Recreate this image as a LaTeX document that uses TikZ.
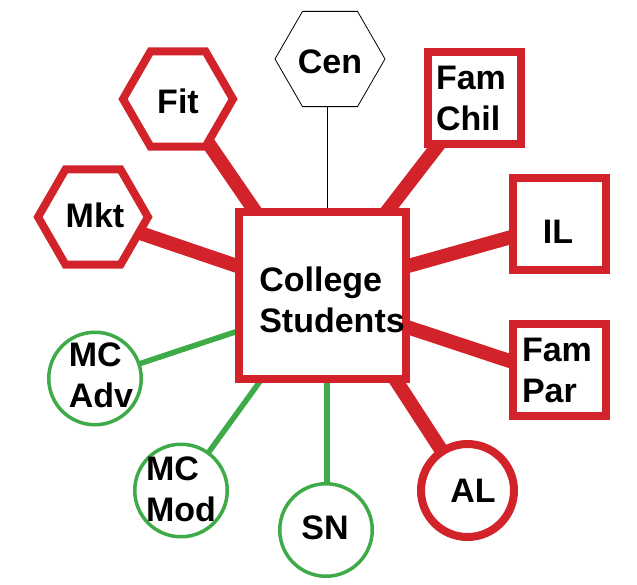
\documentclass[tikz,border=0pt]{standalone}
\usepackage{fontspec}
\setmainfont{Liberation Sans}
\usetikzlibrary{shapes.geometric,backgrounds}
\definecolor{myred}{RGB}{210,35,42}
\definecolor{mygreen}{RGB}{62,170,72}
\begin{document}
\begin{tikzpicture}[x=1pt,y=-1pt,
  lbl/.style={font=\fontsize{34}{41}\selectfont\bfseries, align=left, inner sep=0pt},
  hexred/.style={regular polygon, regular polygon sides=6, minimum size=110pt, inner sep=0pt, draw=myred, line width=8pt, fill=white},
  hexblack/.style={regular polygon, regular polygon sides=6, minimum size=110pt, inner sep=0pt, draw=black, line width=0.8pt, fill=white},
  boxred/.style={rectangle, minimum width=93pt, minimum height=92pt, inner sep=0pt, draw=myred, line width=8pt, fill=white},
  circred/.style={circle, minimum size=93pt, inner sep=0pt, draw=myred, line width=8pt, fill=white},
  circgreen/.style={circle, minimum size=92.5pt, inner sep=0pt, draw=mygreen, line width=3.5pt, fill=white},
  redlink/.style={draw=myred, line width=14pt},
  greenlink/.style={draw=mygreen, line width=5.5pt},
  blacklink/.style={draw=black, line width=0.8pt}
]
\useasboundingbox (0,0) rectangle (637,584);
% shapes
\node[rectangle, minimum size=167pt, inner sep=0pt, draw=myred, line width=8pt, fill=white] (cs) at (322.5,295) {};
\node[hexblack] (cen) at (330,59) {};
\node[hexred] (fit) at (178,99) {};
\node[hexred] (mkt) at (93,217) {};
\node[boxred] (famchil) at (474.5,98) {};
\node[boxred] (il) at (559.5,223.5) {};
\node[boxred] (fampar) at (559.5,369.5) {};
\node[circred] (al) at (467.5,490.5) {};
\node[circgreen] (sn) at (326,530) {};
\node[circgreen] (mcadv) at (95,378.5) {};
\node[circgreen] (mcmod) at (181,490.5) {};
% connectors
\begin{scope}[on background layer]
\draw[redlink] (fit.center) -- ([xshift=-10pt]cs.center);
\draw[redlink] (mkt.center) -- (cs.center);
\draw[redlink] (famchil.center) -- (cs.center);
\draw[redlink] (il.center) -- ([yshift=5pt]cs.center);
\draw[redlink] ([yshift=-8pt]fampar.center) -- ([yshift=-4pt]cs.center);
\draw[redlink] (al.center) -- ([xshift=18pt]cs.center);
\draw[greenlink] (mcadv.center) -- ([yshift=-8pt]cs.center);
\draw[greenlink] (mcmod.center) -- (cs.center);
\draw[greenlink] ([xshift=1pt]sn.center) -- ([xshift=1pt]sn.center |- cs.center);
\draw[blacklink] ([xshift=-3pt]cen.center) -- ([xshift=-3pt]cen.center |- cs.center);
\end{scope}
% texts
\node[lbl] (cs-t) at (332,300) {College\\Students};
\node[lbl] (cen-t) at (330,62) {Cen};
\node[lbl] (fit-t) at (178,101) {Fit};
\node[lbl] (mkt-t) at (95,215) {Mkt};
\node[lbl] (famchil-t) at (471,98) {Fam\\Chil};
\node[lbl] (il-t) at (558,232) {IL};
\node[lbl] (fampar-t) at (557,370) {Fam\\Par};
\node[lbl] (al-t) at (473,491) {AL};
\node[lbl] (sn-t) at (325,528) {SN};
\node[lbl] (mcadv-t) at (101,375) {MC\\Adv};
\node[lbl] (mcmod-t) at (181,489.5) {MC\\Mod};
\end{tikzpicture}
\end{document}
